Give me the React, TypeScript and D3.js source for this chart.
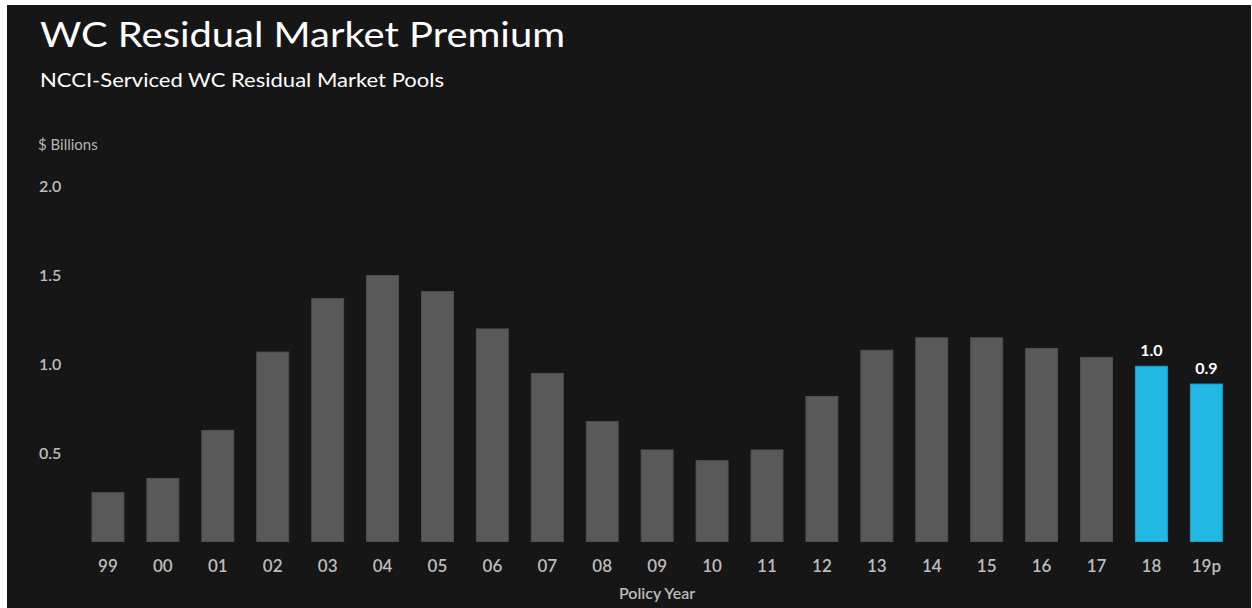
import React from "react";
import * as d3 from "d3";

const years = ["99", "00", "01", "02", "03", "04", "05", "06", "07", "08", "09", "10", "11", "12", "13", "14", "15", "16", "17", "18", "19p"];
const premium = [0.28, 0.36, 0.63, 1.07, 1.37, 1.5, 1.41, 1.2, 0.95, 0.68, 0.52, 0.46, 0.52, 0.82, 1.08, 1.15, 1.15, 1.09, 1.04, 0.99, 0.89];
const highlighted = ["18", "19p"];
const yTicks = [0.5, 1.0, 1.5, 2.0];

const title = "WC Residual Market Premium";
const subtitle = "NCCI-Serviced WC Residual Market Pools";
const yUnit = "$ Billions";
const xTitle = "Policy Year";

const W = 1252;
const H = 608;
const FONT = "Lato, 'Open Sans', sans-serif";

export default function App() {
  const x = d3
    .scaleBand<string>()
    .domain(years)
    .range([80.5, 1233.8])
    .paddingInner(0.4)
    .paddingOuter(0.2);
  const y = d3.scaleLinear().domain([0, 2]).range([542, 186]);
  const fmt = d3.format(".1f");

  const gray = "#595959";
  const blue = "#21b8e4";

  return (
    <div style={{ position: "fixed", left: 0, top: 0 }}>
      <svg width={W} height={H} style={{ display: "block" }} fontFamily={FONT}>
        <rect x={0} y={0} width={W} height={H} fill="#ffffff" />
        <rect x={7} y={5} width={W - 8} height={H - 5} fill="#161616" />
        <text x={40} y={47} fill="#ffffff" fontSize={34} textLength={525} lengthAdjust="spacingAndGlyphs">
          {title}
        </text>
        <text x={40} y={87} fill="#ffffff" fontSize={20} textLength={404} lengthAdjust="spacingAndGlyphs">
          {subtitle}
        </text>
        <text x={38} y={150} fill="#b4b4b4" fontSize={15}>
          {yUnit}
        </text>
        {yTicks.map((t) => (
          <text key={t} x={39} y={y(t)} dy="0.35em" fill="#bdbdbd" fontSize={16} fontWeight={600}>
            {fmt(t)}
          </text>
        ))}
        {years.map((yr, i) => {
          const hi = highlighted.includes(yr);
          const c = hi ? blue : gray;
          const x0 = x(yr) as number;
          return (
            <g key={yr}>
              <rect
                x={x0 + 0.5}
                y={y(premium[i]) + 0.5}
                width={x.bandwidth() - 1}
                height={y(0) - y(premium[i]) - 1}
                fill={c}
                stroke={d3.color(c)!.darker(0.35).toString()}
                strokeWidth={1}
              />
              <text
                x={x0 + x.bandwidth() / 2}
                y={572}
                textAnchor="middle"
                fill="#bdbdbd"
                fontSize={17}
                fontWeight={600}
              >
                {yr}
              </text>
              {hi && (
                <text
                  x={x0 + x.bandwidth() / 2}
                  y={y(premium[i]) - 10}
                  textAnchor="middle"
                  fill="#ffffff"
                  fontSize={16}
                  fontWeight={700}
                >
                  {fmt(premium[i])}
                </text>
              )}
            </g>
          );
        })}
        <text x={657} y={599} textAnchor="middle" fill="#bdbdbd" fontSize={16} fontWeight={600}>
          {xTitle}
        </text>
      </svg>
    </div>
  );
}
